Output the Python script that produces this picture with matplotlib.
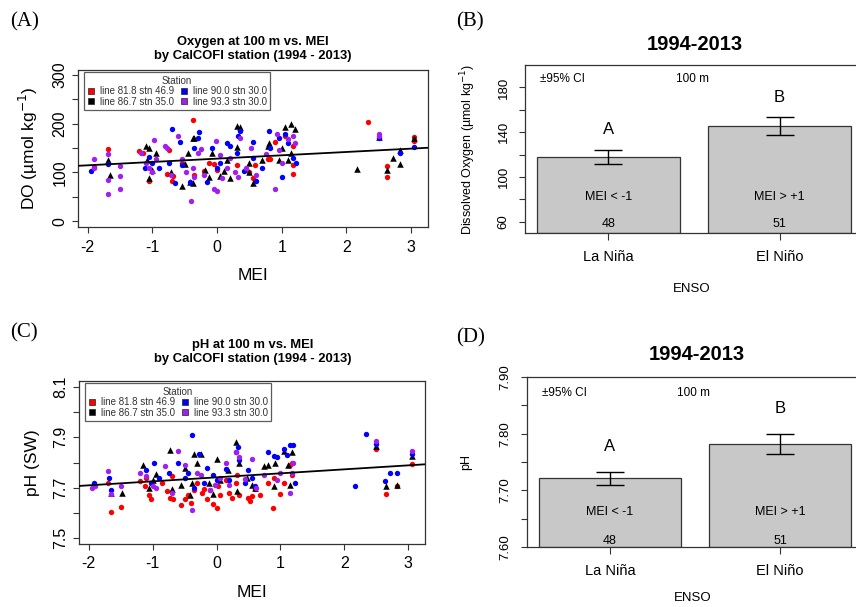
import numpy as np
import matplotlib
matplotlib.use("Agg")
import matplotlib.pyplot as plt
from matplotlib.lines import Line2D

plt.rcParams["font.family"] = ["Liberation Sans", "DejaVu Sans"]

# ---- data ----
stations = ["line 81.8 stn 46.9", "line 86.7 stn 35.0",
            "line 90.0 stn 30.0", "line 93.3 stn 30.0"]
st_colors = ["#FF0000", "#000000", "#0000FF", "#A020F0"]
st_markers = ["o", "^", "o", "o"]

# (A) DO at 100 m vs MEI, one list of (MEI, DO) per station
do_818 = [(-1.68, 149), (-1.2, 143), (-1.15, 140), (-1.05, 83), (-1.9, 112),
          (-0.78, 97), (-0.7, 82), (-0.68, 92), (-0.75, 145), (-0.38, 207),
          (-0.55, 120), (-0.35, 95), (-0.2, 103), (-0.12, 120), (-0.05, 118),
          (0.0, 105), (0.3, 115), (0.55, 88), (0.58, 115), (0.78, 128),
          (0.82, 128), (0.9, 162), (1.05, 175), (1.18, 155), (1.18, 115),
          (1.18, 97), (0.5, 100), (2.33, 203), (2.62, 113), (2.62, 90),
          (3.05, 173), (3.05, 165)]
do_867 = [(-1.68, 125), (-1.65, 95), (-1.1, 155), (-1.05, 150), (-1.05, 88),
          (-0.95, 140), (-1.0, 105), (-1.08, 125), (-0.72, 100), (-0.55, 72),
          (-0.45, 140), (-0.42, 80), (-0.38, 170), (-0.35, 170), (-0.38, 78),
          (-0.5, 118), (-0.18, 105), (-0.12, 90), (-0.08, 140), (0.05, 93),
          (0.1, 102), (0.2, 88), (0.15, 125), (0.3, 195), (0.35, 193),
          (0.3, 152), (0.5, 120), (0.55, 78), (0.5, 100), (0.7, 125),
          (0.78, 155), (0.8, 160), (0.95, 125), (1.05, 193), (1.15, 200),
          (1.2, 190), (1.1, 125), (1.15, 140), (1.0, 150), (2.17, 106),
          (2.62, 105), (2.72, 130), (2.82, 117), (2.82, 145), (3.05, 170),
          (2.5, 172)]
do_900 = [(-1.95, 103), (-1.68, 118), (-1.12, 110), (-1.0, 120), (-0.9, 108),
          (-1.05, 132), (-0.7, 188), (-0.75, 120), (-0.65, 79), (-0.58, 162),
          (-0.55, 115), (-0.42, 80), (-0.35, 150), (-0.28, 182), (-0.3, 170),
          (-0.15, 80), (-0.08, 150), (0.0, 110), (0.05, 120), (0.15, 160),
          (0.2, 155), (0.32, 175), (0.35, 185), (0.3, 140), (0.42, 102),
          (0.55, 162), (0.6, 82), (0.55, 130), (0.7, 110), (0.8, 185),
          (0.82, 150), (0.95, 170), (1.0, 90), (1.05, 178), (1.1, 160),
          (1.18, 130), (1.22, 120), (2.5, 170), (2.83, 140), (3.05, 153)]
do_933 = [(-1.9, 127), (-1.9, 110), (-1.68, 138), (-1.68, 85), (-1.68, 55),
          (-1.5, 113), (-1.5, 93), (-1.5, 65), (-1.18, 140), (-1.1, 120),
          (-0.98, 167), (-1.0, 100), (-0.95, 128), (-1.05, 110), (-0.8, 155),
          (-0.78, 150), (-0.72, 95), (-0.6, 175), (-0.55, 128), (-0.48, 100),
          (-0.4, 42), (-0.38, 110), (-0.35, 90), (-0.3, 140), (-0.25, 148),
          (-0.2, 95), (-0.05, 65), (0.0, 62), (-0.02, 165), (0.05, 135),
          (0.08, 88), (0.15, 110), (0.2, 130), (0.28, 100), (0.32, 90),
          (0.35, 170), (0.45, 110), (0.52, 150), (0.6, 95), (0.75, 138),
          (0.9, 65), (0.92, 178), (0.95, 145), (1.0, 120), (1.1, 168),
          (1.17, 175), (1.2, 160), (2.5, 178), (2.5, 175)]
do_fit = (128.2, 6.84)   # intercept, slope

# (C) pH at 100 m vs MEI
ph_818 = [(-1.7, 7.72), (-1.65, 7.605), (-1.5, 7.625), (-1.2, 7.725),
          (-1.12, 7.705), (-1.05, 7.67), (-1.03, 7.655), (-1.1, 7.74),
          (-0.85, 7.72), (-0.78, 7.685), (-0.72, 7.66), (-0.68, 7.655),
          (-0.7, 7.745), (-0.55, 7.63), (-0.5, 7.655), (-0.45, 7.67),
          (-0.4, 7.64), (-0.35, 7.69), (-0.3, 7.72), (-0.22, 7.68),
          (-0.2, 7.695), (-0.15, 7.655), (-0.1, 7.69), (-0.05, 7.635),
          (0.0, 7.62), (0.02, 7.705), (0.05, 7.67), (0.15, 7.73), (0.2, 7.68),
          (0.25, 7.66), (0.3, 7.72), (0.32, 7.75), (0.35, 7.67), (0.5, 7.66),
          (0.52, 7.645), (0.55, 7.665), (0.6, 7.695), (0.68, 7.67),
          (0.8, 7.72), (0.88, 7.62), (0.9, 7.74), (1.0, 7.675), (1.05, 7.72),
          (1.15, 7.79), (1.18, 7.8), (1.18, 7.75), (2.5, 7.855),
          (2.65, 7.675), (2.82, 7.705), (3.05, 7.795)]
ph_867 = [(-1.65, 7.68), (-1.48, 7.68), (-1.15, 7.79), (-1.05, 7.7),
          (-0.95, 7.755), (-1.0, 7.73), (-0.72, 7.85), (-0.7, 7.695),
          (-0.55, 7.71), (-0.5, 7.78), (-0.42, 7.67), (-0.35, 7.835),
          (-0.3, 7.8), (-0.25, 7.835), (-0.38, 7.72), (-0.12, 7.72),
          (-0.05, 7.675), (0.0, 7.815), (0.05, 7.73), (0.18, 7.77),
          (0.3, 7.88), (0.32, 7.685), (0.35, 7.8), (0.48, 7.74), (0.55, 7.71),
          (0.6, 7.70), (0.75, 7.785), (0.8, 7.79), (0.9, 7.705), (0.92, 7.8),
          (1.05, 7.845), (1.15, 7.71), (1.18, 7.84), (1.12, 7.79),
          (2.5, 7.865), (2.65, 7.705), (2.82, 7.71), (3.05, 7.825)]
ph_900 = [(-1.92, 7.72), (-1.68, 7.74), (-1.65, 7.69), (-1.1, 7.77),
          (-1.02, 7.72), (-0.98, 7.80), (-0.9, 7.74), (-0.75, 7.76),
          (-0.6, 7.8), (-0.5, 7.74), (-0.45, 7.76), (-0.38, 7.91),
          (-0.35, 7.70), (-0.28, 7.835), (-0.2, 7.72), (-0.15, 7.78),
          (-0.05, 7.75), (0.0, 7.73), (0.15, 7.775), (0.2, 7.73), (0.3, 7.84),
          (0.33, 7.86), (0.35, 7.81), (0.45, 7.72), (0.5, 7.77), (0.55, 7.74),
          (0.6, 7.705), (0.8, 7.84), (0.9, 7.825), (0.95, 7.82),
          (1.05, 7.855), (1.1, 7.83), (1.15, 7.87), (1.2, 7.87),
          (1.22, 7.72), (2.17, 7.705), (2.33, 7.915), (2.5, 7.875),
          (2.63, 7.725), (2.72, 7.76), (2.82, 7.76), (3.05, 7.835)]
ph_933 = [(-1.95, 7.70), (-1.9, 7.705), (-1.7, 7.765), (-1.65, 7.675),
          (-1.5, 7.705), (-1.2, 7.76), (-1.1, 7.745), (-1.0, 7.705),
          (-0.95, 7.70), (-0.8, 7.785), (-0.7, 7.68), (-0.6, 7.845),
          (-0.5, 7.79), (-0.38, 7.61), (-0.3, 7.76), (-0.25, 7.75),
          (-0.1, 7.69), (-0.02, 7.71), (0.05, 7.74), (0.15, 7.8), (0.2, 7.71),
          (0.3, 7.84), (0.35, 7.82), (0.45, 7.735), (0.55, 7.815),
          (0.62, 7.70), (0.75, 7.75), (0.95, 7.73), (1.0, 7.76), (1.15, 7.68),
          (1.18, 7.76), (1.2, 7.80), (2.5, 7.885), (3.05, 7.845)]
ph_fit = (7.741, 0.0159)

# (B), (D) bar summaries
enso = ["La Niña", "El Niño"]
mei_class = ["MEI < -1", "MEI > +1"]
n_obs = [48, 51]
sig_group = ["A", "B"]
do_mean = [118.0, 145.5]
do_lo = [111.8, 137.3]
do_hi = [124.3, 154.0]
ph_mean = [7.721, 7.782]
ph_lo = [7.709, 7.765]
ph_hi = [7.733, 7.799]

W, H = 856, 607
fig = plt.figure(figsize=(W / 100, H / 100), dpi=100)


def px_axes(l, t, r, b):
    return fig.add_axes([l / W, 1 - b / H, (r - l) / W, (b - t) / H])


def style_box(ax):
    for s in ax.spines.values():
        s.set_color("#333333")
        s.set_linewidth(0.9)
    ax.tick_params(direction="out", length=4, width=0.8, color="#333333")


def scatter_panel(ax, series, fit, yticks, ylabels, ylim):
    for pts, c, m in zip(series, st_colors, st_markers):
        x = [p[0] for p in pts]
        y = [p[1] for p in pts]
        ax.scatter(x, y, c=c, marker=m, s=22 if m == "^" else 15,
                   linewidths=0, zorder=3)
    ax.axline((0, fit[0]), slope=fit[1], color="black", lw=1.3, zorder=4)
    ax.set_xlim(-2.15, 3.26)
    ax.set_ylim(*ylim)
    ax.set_xticks([-2, -1, 0, 1, 2, 3])
    ax.set_xticklabels(["-2", "-1", "0", "1", "2", "3"], fontsize=11.5)
    ax.set_yticks(yticks)
    ax.set_yticklabels(ylabels, fontsize=11.5, rotation=90, va="center")
    style_box(ax)
    ax.tick_params(axis="x", pad=5)
    handles = [Line2D([], [], marker="s", ls="", color=c, markeredgecolor="#222222",
                      markeredgewidth=0.5, markersize=5) for c in st_colors]
    leg = ax.legend(handles, stations, ncol=2, title="Station", loc="upper left",
                    bbox_to_anchor=(0.017, 0.985), fontsize=7, title_fontsize=7,
                    frameon=True, fancybox=False, handlelength=0.8,
                    handletextpad=0.5, columnspacing=0.6, labelspacing=0.05,
                    borderpad=0.35, borderaxespad=0)
    leg.get_frame().set_edgecolor("#333333")
    leg.get_frame().set_linewidth(0.9)
    plt.setp(leg.get_texts(), color="#333333")
    leg.get_title().set_color("#333333")


def bar_panel(ax, mean, lo, hi, ylim, yticks, ylabels, lab_y, txt_y, xlab_pad):
    xpos = [0.7, 1.9]
    ax.bar(xpos, [m - ylim[0] for m in mean], bottom=ylim[0], width=1.0,
           color="#C8C8C8", edgecolor="#333333", linewidth=0.9, zorder=2)
    ax.errorbar(xpos, mean, yerr=[np.subtract(mean, lo), np.subtract(hi, mean)],
                fmt="none", ecolor="black", elinewidth=1.0, capsize=10,
                capthick=1.0, zorder=3)
    ax.set_xlim(0.116, 2.45)
    ax.set_ylim(*ylim)
    ax.set_xticks(xpos)
    ax.set_xticklabels(enso, fontsize=10.5)
    ax.set_yticks(yticks)
    ax.set_yticklabels(ylabels, fontsize=9.5, rotation=90, va="center")
    style_box(ax)
    ax.tick_params(axis="x", length=5, pad=7)
    ax.tick_params(axis="y", pad=7)
    ax.set_xlabel("ENSO", fontsize=9.5, labelpad=xlab_pad)
    for i, x in enumerate(xpos):
        ax.text(x, lab_y[i], sig_group[i], ha="center", va="center", fontsize=12)
        ax.text(x, txt_y[0], mei_class[i], ha="center", va="center", fontsize=9)
        ax.text(x, txt_y[1], str(n_obs[i]), ha="center", va="center", fontsize=9)
    ax.text(0.22, txt_y[2], "±95% CI", ha="left", va="center", fontsize=8.5)
    ax.text(1.29, txt_y[2], "100 m", ha="center", va="center", fontsize=8.5)


# ---- (A) ----
axA = px_axes(78, 70, 428, 227)
scatter_panel(axA, [do_818, do_867, do_900, do_933], do_fit,
              np.arange(0, 301, 50), ["0", "", "100", "", "200", "", "300"],
              (-12, 310))
axA.set_xlabel("MEI", fontsize=12.5, labelpad=10)
axA.set_ylabel("DO (µmol kg$^{-1}$)", fontsize=12.5, labelpad=9)
fig.text(253 / W, 1 - 49 / H, "Oxygen at 100 m vs. MEI\nby CalCOFI station (1994 - 2013)",
         ha="center", va="center", fontsize=9.4, fontweight="bold", linespacing=1.2)

# ---- (C) ----
axC = px_axes(79, 381, 425, 544)
scatter_panel(axC, [ph_818, ph_867, ph_900, ph_933], ph_fit,
              np.arange(7.5, 8.11, 0.1), ["7.5", "", "7.7", "", "7.9", "", "8.1"],
              (7.476, 8.124))
axC.set_xlabel("MEI", fontsize=12.5, labelpad=10)
axC.set_ylabel("pH (SW)", fontsize=12.5, labelpad=10)
fig.text(253 / W, 1 - 352 / H, "pH at 100 m vs. MEI\nby CalCOFI station (1994 - 2013)",
         ha="center", va="center", fontsize=9.4, fontweight="bold", linespacing=1.2)

# ---- (B) ----
axB = px_axes(525, 65, 858, 233)
bar_panel(axB, do_mean, do_lo, do_hi, (50, 200), np.arange(60, 181, 20),
          ["60", "", "100", "", "140", "", "180"], [142, 171.4], [82, 58, 187.5], 14)
axB.set_ylabel("Dissolved Oxygen (µmol kg$^{-1}$)", fontsize=9, labelpad=14)
fig.text(695 / W, 1 - 45 / H, "1994-2013", ha="center", va="center",
         fontsize=14.5, fontweight="bold")

# ---- (D) ----
axD = px_axes(527, 377, 858, 547)
bar_panel(axD, ph_mean, ph_lo, ph_hi, (7.6, 7.9), np.arange(7.6, 7.91, 0.05),
          ["7.60", "", "7.70", "", "7.80", "", "7.90"], [7.777, 7.845],
          [7.662, 7.611, 7.872], 10)
axD.set_ylabel("pH", fontsize=9, labelpad=20)
fig.text(697 / W, 1 - 355 / H, "1994-2013", ha="center", va="center",
         fontsize=14.5, fontweight="bold")

# panel letters
for lab, x, y in [("(A)", 10, 22), ("(B)", 456, 22), ("(C)", 10, 333), ("(D)", 456, 338)]:
    fig.text(x / W, 1 - y / H, lab, ha="left", va="center", fontsize=15,
             family=["Liberation Serif", "DejaVu Serif"])

fig.savefig("out.png", dpi=100)
